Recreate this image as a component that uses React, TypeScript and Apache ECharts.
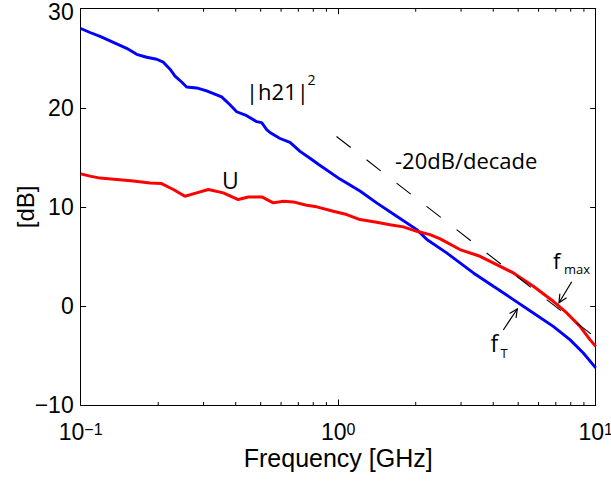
import React, { useEffect, useRef } from "react";
import * as echarts from "echarts";

// ---- data ----
const blueFreq = [0.1, 0.1087, 0.1189, 0.1339, 0.1508, 0.165, 0.1804, 0.1972, 0.2094, 0.2223, 0.2324, 0.2466, 0.2579, 0.282, 0.3084, 0.3373, 0.3527, 0.38, 0.4034, 0.4411, 0.4824, 0.5045, 0.5276, 0.5435, 0.5943, 0.65, 0.7108, 0.7771, 0.8372, 1.016, 1.215, 1.41, 1.687, 2.02, 2.21, 2.637, 3.35, 4.005, 4.79, 5.725, 6.84, 7.94, 8.95, 10];
const blueDb = [28.0, 27.6, 27.2, 26.6, 26.0, 25.4, 25.1, 24.9, 24.6, 23.9, 23.2, 22.6, 22.1, 22.0, 21.7, 21.3, 21.1, 20.3, 19.6, 19.2, 18.6, 18.5, 17.8, 17.5, 16.9, 16.5, 15.6, 14.9, 14.3, 12.8, 11.6, 10.4, 9.05, 7.7, 6.7, 5.35, 3.33, 1.98, 0.64, -0.71, -2.06, -3.4, -4.75, -6.26];

const redFreq = [0.1, 0.1087, 0.1189, 0.138, 0.16, 0.1858, 0.206, 0.229, 0.254, 0.282, 0.313, 0.358, 0.409, 0.448, 0.505, 0.56, 0.612, 0.669, 0.754, 0.825, 0.957, 1.079, 1.215, 1.41, 1.589, 1.79, 2.02, 2.272, 2.49, 2.97, 3.554, 3.77, 4.79, 5.725, 6.84, 7.72, 8.69, 9.5, 10];
const redDb = [13.33, 13.1, 12.9, 12.76, 12.6, 12.4, 12.35, 11.75, 11.07, 11.41, 11.75, 11.41, 10.74, 11.0, 11.0, 10.4, 10.57, 10.5, 10.16, 10.0, 9.56, 9.22, 8.72, 8.45, 8.2, 7.98, 7.53, 7.2, 6.77, 5.69, 5.01, 4.68, 3.33, 1.98, 0.47, -0.71, -2.06, -3.4, -4.08];

const slopeFreq = [0.985, 10];
const slopeDb = [17.1, -3.2];

const minorTickFreq = [0.2, 0.3, 0.4, 0.5, 0.6, 0.7, 0.8, 0.9, 2, 3, 4, 5, 6, 7, 8, 9];
const xTickExponents: Record<string, string> = { "0.1": "−1", "1": "0", "10": "1" };
const yMin = -10;
const yMax = 30;
const yStep = 10;

const AXIS_FONT = "'Liberation Sans', Arial, sans-serif";
const NOTE_FONT = "'Open Sans', 'Noto Sans', sans-serif";

function arrow(tail: number[], head: number[]) {
  const ang = Math.atan2(head[1] - tail[1], head[0] - tail[0]);
  const L = 9;
  const spread = 0.45;
  const p1 = [head[0] - L * Math.cos(ang - spread), head[1] - L * Math.sin(ang - spread)];
  const p2 = [head[0] - L * Math.cos(ang + spread), head[1] - L * Math.sin(ang + spread)];
  return [
    { type: "line", shape: { x1: tail[0], y1: tail[1], x2: head[0], y2: head[1] }, style: { stroke: "#000", lineWidth: 1.2 }, z: 100 },
    { type: "polyline", shape: { points: [p1, head, p2] }, style: { stroke: "#000", lineWidth: 1.2, fill: null }, z: 100 },
  ];
}

function note(text: string, x: number, y: number, size: number) {
  return {
    type: "text",
    x,
    y,
    z: 100,
    style: {
      text,
      fontSize: size,
      fontFamily: NOTE_FONT,
      fill: "#000",
      align: "left",
      verticalAlign: "middle",
      textAlign: "left",
      textVerticalAlign: "middle",
    },
  };
}

export default function App() {
  const ref = useRef<HTMLDivElement>(null);
  useEffect(() => {
    if (!ref.current) return;
    const chart = echarts.init(ref.current, null, { renderer: "svg" });
    const black = "#000";
    const blueData = blueFreq.map((f, i) => [f, blueDb[i]]);
    const redData = redFreq.map((f, i) => [f, redDb[i]]);
    const slopeData = slopeFreq.map((f, i) => [f, slopeDb[i]]);

    const frameAxis = {
      axisLine: { show: true, onZero: false, lineStyle: { color: black, width: 1 } },
      axisTick: { show: true, inside: true, length: 5.5, lineStyle: { color: black, width: 1 } },
      splitLine: { show: false },
    };

    const option: any = {
      animation: false,
      backgroundColor: "#fff",
      grid: { left: 80.7, right: 15.3, top: 8.7, bottom: 79, containLabel: false, outerBoundsMode: "none" },
      xAxis: [
        {
          type: "log",
          logBase: 10,
          min: 0.1,
          max: 10,
          position: "bottom",
          ...frameAxis,
          axisLabel: {
            show: true,
            margin: 16,
            showMinLabel: true,
            showMaxLabel: true,
            hideOverlap: false,
            formatter: (v: number) => {
              const key = String(Math.round(v * 10) / 10);
              return `{b|10}{s|${xTickExponents[key] ?? ""}}`;
            },
            rich: {
              b: { fontSize: 23, lineHeight: 22, fontFamily: AXIS_FONT, color: black },
              s: { fontSize: 16, lineHeight: 2, verticalAlign: "top", fontFamily: AXIS_FONT, color: black },
            },
          },
          name: "Frequency [GHz]",
          nameLocation: "middle",
          nameGap: 43,
          nameMoveOverlap: false,
          nameTextStyle: { fontSize: 25, lineHeight: 20, fontFamily: AXIS_FONT, color: black },
        },
        {
          type: "log",
          logBase: 10,
          min: 0.1,
          max: 10,
          position: "top",
          ...frameAxis,
          axisLabel: { show: false },
        },
      ],
      yAxis: [
        {
          type: "value",
          min: yMin,
          max: yMax,
          interval: yStep,
          position: "left",
          ...frameAxis,
          axisLabel: {
            margin: 7,
            fontSize: 23,
            fontFamily: AXIS_FONT,
            color: black,
            formatter: (v: number) => {
              const s = v < 0 ? "−" + Math.abs(v) : String(v);
              return v === yMax ? `{t|${s}}` : s;
            },
            rich: {
              t: { fontSize: 23, fontFamily: AXIS_FONT, color: black, padding: [7, 0, 0, 0] },
            },
          },
          name: "[dB]",
          nameLocation: "middle",
          nameRotate: 90,
          nameGap: 43,
          nameMoveOverlap: false,
          nameTextStyle: { fontSize: 24, fontFamily: AXIS_FONT, color: black },
        },
        {
          type: "value",
          min: yMin,
          max: yMax,
          interval: yStep,
          position: "right",
          ...frameAxis,
          axisLabel: { show: false },
        },
      ],
      series: [
        {
          type: "line",
          name: "|h21|^2",
          data: blueData,
          showSymbol: false,
          symbol: "none",
          lineStyle: { color: "#0000ff", width: 2.9 },
          z: 3,
        },
        {
          type: "line",
          name: "U",
          data: redData,
          showSymbol: false,
          symbol: "none",
          lineStyle: { color: "#ff0000", width: 3 },
          z: 4,
        },
        {
          type: "custom",
          name: "-20dB/decade",
          silent: true,
          data: slopeData,
          z: 5,
          renderItem: (params: any, api: any) => {
            if (params.dataIndex !== 0) return null;
            const a = api.coord(slopeData[0]);
            const b = api.coord(slopeData[1]);
            return {
              type: "line",
              shape: { x1: a[0], y1: a[1], x2: b[0], y2: b[1] },
              style: { stroke: black, lineWidth: 1.1, lineDash: [18, 20], fill: null },
            };
          },
        },
        {
          type: "custom",
          name: "minor ticks",
          silent: true,
          data: minorTickFreq.map((f) => [f, yMin]),
          z: 6,
          renderItem: (_params: any, api: any) => {
            const f = api.value(0);
            const b = api.coord([f, yMin]);
            const t = api.coord([f, yMax]);
            return {
              type: "group",
              children: [
                { type: "line", shape: { x1: b[0], y1: b[1], x2: b[0], y2: b[1] - 3 }, style: { stroke: black, lineWidth: 1 } },
                { type: "line", shape: { x1: t[0], y1: t[1], x2: t[0], y2: t[1] + 3 }, style: { stroke: black, lineWidth: 1 } },
              ],
            };
          },
        },
      ],
      graphic: [
        note("|h21|", 246, 90.5, 22),
        note("2", 307.5, 79.5, 14),
        note("U", 222, 179.5, 23),
        note("-20dB/decade", 395, 159.5, 22),
        note("f", 553, 260, 22),
        note("max", 564, 268.5, 13),
        note("f", 490.5, 342.5, 23),
        note("T", 500.5, 352.5, 13),
        ...arrow([571.7, 281.7], [559, 302.7]),
        ...arrow([503.3, 330], [517.3, 309]),
      ],
    };
    chart.setOption(option);
    return () => chart.dispose();
  }, []);
  return (
    <div
      ref={ref}
      style={{ position: "fixed", left: 0, top: 0, width: 611, height: 484, background: "#fff" }}
    />
  );
}
